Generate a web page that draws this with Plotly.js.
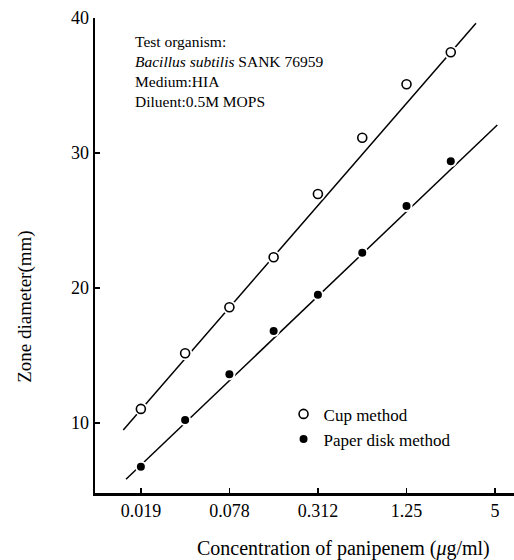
<!DOCTYPE html>
<html>
<head>
<meta charset="utf-8">
<script src="https://cdn.plot.ly/plotly-3.0.1.min.js"></script>
<style>html,body{margin:0;padding:0;background:#fff;}#chart{width:514px;height:560px;}</style>
</head>
<body>
<div id="chart"></div>
<script>
// Concentration of panipenem (µg/ml)
const conc = [0.0195, 0.039, 0.078, 0.156, 0.312, 0.625, 1.25, 2.5];
// Zone diameter (mm)
const cupZone = [11.04, 15.16, 18.57, 22.27, 26.96, 31.13, 35.09, 37.46];
const paperZone = [6.76, 10.22, 13.61, 16.81, 19.5, 22.61, 26.07, 29.39];
// Regression lines (end points)
const cupFitX = [0.0148, 3.71];
const cupFitY = [9.48, 39.61];
const paperFitX = [0.01545, 5.18];
const paperFitY = [5.83, 32.07];
// Axis ticks
const xTickVals = [0.01953, 0.078125, 0.3125, 1.25, 5];
const xTickText = ["0.019", "0.078", "0.312", "1.25", "5"];
const yTickVals = [10, 20, 30, 40];
// Inset note lines
const noteLines = ["Test organism:", "<i>Bacillus subtilis</i> SANK 76959", "Medium:HIA", "Diluent:0.5M MOPS"];

const serif = "Liberation Serif, Times New Roman, serif";

const traces = [
  {x: cupFitX, y: cupFitY, mode: "lines", line: {color: "#000", width: 1.5}, showlegend: false, hoverinfo: "skip"},
  {x: paperFitX, y: paperFitY, mode: "lines", line: {color: "#000", width: 1.5}, showlegend: false, hoverinfo: "skip"},
  // white halos around markers
  {x: conc, y: cupZone, mode: "markers", marker: {symbol: "circle", size: 14, color: "#fff"}, showlegend: false, hoverinfo: "skip"},
  {x: conc, y: paperZone, mode: "markers", marker: {symbol: "circle", size: 12, color: "#fff"}, showlegend: false, hoverinfo: "skip"},
  {x: conc, y: cupZone, mode: "markers", name: "Cup method",
   marker: {symbol: "circle", size: 9, color: "#fff", line: {color: "#000", width: 1.6}}},
  {x: conc, y: paperZone, mode: "markers", name: "Paper disk method",
   marker: {symbol: "circle", size: 8, color: "#000", line: {color: "#000", width: 0}}}
];

const annotations = [
  {xref: "paper", yref: "paper", x: 0.09, y: 0.972, xanchor: "left", yanchor: "top", align: "left",
   showarrow: false, font: {family: serif, size: 15.5, color: "#000"}, text: noteLines.join("<br>")},
  {xref: "paper", yref: "paper", x: 0.592, y: -0.116, xanchor: "center", yanchor: "middle",
   showarrow: false, font: {family: serif, size: 20, color: "#000"},
   text: "Concentration of panipenem (<i>μ</i>g/ml)"},
  {xref: "paper", yref: "paper", x: -0.167, y: 0.392, xanchor: "center", yanchor: "middle",
   textangle: -90, showarrow: false, font: {family: serif, size: 19, color: "#000"},
   text: "Zone diameter(mm)"}
];

const layout = {
  width: 514, height: 560,
  margin: {l: 95, r: 0, t: 18, b: 67},
  paper_bgcolor: "#fff", plot_bgcolor: "#fff",
  font: {family: serif, size: 18, color: "#000"},
  showlegend: true,
  legend: {x: 0.45, y: 0.2035, xanchor: "left", yanchor: "top", bgcolor: "rgba(0,0,0,0)",
           font: {family: serif, size: 17, color: "#000"}, tracegroupgap: 0},
  xaxis: {
    type: "log", range: [-2.022, 0.828],
    tickvals: xTickVals, ticktext: xTickText,
    ticks: "inside", ticklen: 5, tickwidth: 1.5, tickcolor: "#000",
    showline: true, linecolor: "#000", linewidth: 2.5,
    showgrid: false, zeroline: false,
    tickfont: {family: serif, size: 18, color: "#000"}
  },
  yaxis: {
    range: [4.81, 40],
    tickvals: yTickVals,
    ticks: "inside", ticklen: 5, tickwidth: 1.5, tickcolor: "#000",
    showline: true, linecolor: "#000", linewidth: 2.5,
    showgrid: false, zeroline: false,
    tickfont: {family: serif, size: 18, color: "#000"}
  },
  annotations: annotations
};

Plotly.newPlot("chart", traces, layout, {displayModeBar: false, staticPlot: true});
</script>
</body>
</html>
